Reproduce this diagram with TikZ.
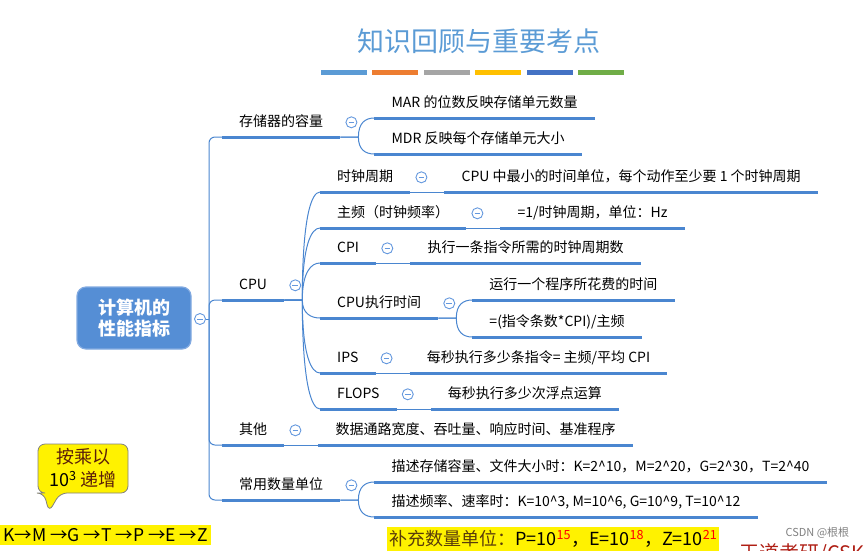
\documentclass[tikz,border=0pt]{standalone}
\usepackage{fontspec}
\setmainfont{Noto Sans CJK SC}
\usepackage{xcolor}
\usetikzlibrary{positioning,calc}

\definecolor{lineblue}{RGB}{74,134,208}
\definecolor{foldblue}{RGB}{100,152,222}
\definecolor{rootblue}{RGB}{85,142,213}
\definecolor{rootedge}{RGB}{130,170,225}
\definecolor{titleblue}{RGB}{91,155,213}
\definecolor{barblue}{RGB}{91,155,213}
\definecolor{barorange}{RGB}{237,125,49}
\definecolor{bargray}{RGB}{165,165,165}
\definecolor{bargold}{RGB}{255,192,0}
\definecolor{bardblue}{RGB}{68,114,196}
\definecolor{bargreen}{RGB}{112,173,71}
\definecolor{bubtext}{RGB}{90,30,10}
\definecolor{suptext}{RGB}{90,60,10}
\definecolor{wdred}{RGB}{175,30,20}

\tikzset{
  item/.style={anchor=south west, inner xsep=17pt, inner ysep=8pt,
    text height=11pt, text depth=2pt, font=\fontsize{14}{16}\selectfont},
  uline/.style={draw=lineblue, line width=3pt},
  conn/.style={draw=lineblue, line width=1pt},
  fold/.style={circle, draw=foldblue, line width=0.9pt, fill=white,
    minimum size=11pt, inner sep=0pt,
    path picture={\draw[foldblue, line width=0.9pt]
      ([xshift=-2.8pt]path picture bounding box.center) --
      ([xshift=2.8pt]path picture bounding box.center);}},
  root/.style={rectangle, rounded corners=9pt, fill=rootblue, draw=rootedge,
    line width=1.2pt, minimum width=114pt, minimum height=62pt, text=white,
    align=center, font=\fontsize{18}{21}\selectfont\bfseries},
}

\begin{document}
\begin{tikzpicture}[x=1pt, y=-1pt]
\useasboundingbox (0,0) rectangle (867,550);
\clip (0,0) rectangle (867,550);

% title and colour bars
\node[font=\fontsize{27}{30}\selectfont, text=titleblue] (title) at (479,41) {知识回顾与重要考点};
\foreach \c [count=\i from 0] in {barblue,barorange,bargray,bargold,bardblue,bargreen}
  \fill[\c] (321+51.4*\i,70) rectangle ++(46,5);

% root
\node[root] (root) at (134,318) {计算机的\\性能指标};
\node[fold] (froot) at (200,319) {};
\coordinate (sp) at (209,319);

% first level
\node[item] (mem) at (222,137) {存储器的容量};
\node[item] (cpu) at (222,300) {CPU};
\node[item] (oth) at (222,445) {其他};
\node[item] (unt) at (222,500) {常用数量单位};

% memory
\node[item] (mar) at ($(mem.south east)+(34,-19)$) {MAR 的位数反映存储单元数量};
\node[item] (mdr) at ($(mem.south east)+(34,17)$) {MDR 反映每个存储单元大小};

% cpu
\node[item] (clk) at (320,192) {时钟周期};
\node[item] (frq) at (320,228) {主频（时钟频率）};
\node[item] (cpi) at (320,263) {CPI};
\node[item] (tim) at (320,318) {CPU执行时间};
\node[item] (ips) at (320,373) {IPS};
\node[item] (flp) at (320,409) {FLOPS};

\node[item] (clkv) at ([xshift=34pt]clk.south east) {CPU 中最小的时间单位，每个动作至少要 1 个时钟周期};
\node[item] (frqv) at ([xshift=34pt]frq.south east) {=1/时钟周期，单位：Hz};
\node[item] (cpiv) at ([xshift=34pt]cpi.south east) {执行一条指令所需的时钟周期数};
\node[item] (tim1) at ($(tim.south east)+(34,-18)$) {运行一个程序所花费的时间};
\node[item] (tim2) at ($(tim.south east)+(34,19)$) {=(指令条数*CPI)/主频};
\node[item] (ipsv) at ([xshift=34pt]ips.south east) {每秒执行多少条指令= 主频/平均 CPI};
\node[item] (flpv) at ([xshift=34pt]flp.south east) {每秒执行多少次浮点运算};

% others and units
\node[item] (othv) at ([xshift=34pt]oth.south east) {数据通路宽度、吞吐量、响应时间、基准程序};
\node[item] (unt1) at ($(unt.south east)+(34,-18)$) {描述存储容量、文件大小时：K=2\textasciicircum10，M=2\textasciicircum20，G=2\textasciicircum30，T=2\textasciicircum40};
\node[item] (unt2) at ($(unt.south east)+(34,17)$) {描述频率、速率时：K=10\textasciicircum3, M=10\textasciicircum6, G=10\textasciicircum9, T=10\textasciicircum12};

% connectors
\draw[conn] (froot) -- (sp);
\foreach \b in {mem,cpu,oth,unt}
  \draw[conn, rounded corners=6pt] (sp) |- (\b.south west);
\foreach \a/\b in {clk/clkv,frq/frqv,cpi/cpiv,ips/ipsv,flp/flpv,oth/othv}
  \draw[conn] (\a.south east) -- (\b.south west);
\foreach \a/\b in {mem/mar,mem/mdr,cpu/clk,cpu/frq,cpu/cpi,cpu/tim,cpu/ips,cpu/flp,tim/tim1,tim/tim2,unt/unt1,unt/unt2}
  \draw[conn] (\a.south east) -- ++(18,0) coordinate (fan)
    .. controls ($(fan)!0.75!(fan |- \b.south west)$) and ($(\b.south west)+(-9,0)$) .. (\b.south west);
\foreach \n in {mem,mar,mdr,cpu,clk,clkv,frq,frqv,cpi,cpiv,tim,tim1,tim2,ips,ipsv,flp,flpv,oth,othv,unt,unt1,unt2}
  \draw[uline] (\n.south west) -- (\n.south east);
\foreach \n in {mem,cpu,clk,frq,cpi,tim,ips,flp,oth,unt}
  \node[fold] (f\n) at ([xshift=11pt]\n.east) {};

% callout and notes
\filldraw[fill=yellow, draw=gray, line width=0.8pt, rounded corners=7pt]
  (49,512) -- (60,493) -- (128,493) -- (128,444) -- (38,444) -- (38,493) -- (44,493) -- cycle;
\node[align=center, text=bubtext, font=\fontsize{18}{23}\selectfont] (bub) at (83,468)
  {按乘以\\{\color{black}10\textsuperscript{3}} 递增};
\node[fill=yellow, anchor=west, inner xsep=3pt, minimum height=20pt,
  font=\fontsize{17.5}{20}\selectfont] (kmg) at (0,535) {K→M →G →T →P →E →Z};
\node[fill=yellow, anchor=west, inner xsep=2pt, minimum height=23pt,
  font=\fontsize{18}{20}\selectfont] (more) at (387,539)
  {{\color{suptext}补充数量单位：}P=10\textsuperscript{\color{red}15}，E=10\textsuperscript{\color{red}18}，Z=10\textsuperscript{\color{red}21}};
\node[text=gray, anchor=west, font=\fontsize{11}{12}\selectfont] (csdn) at (782,533) {CSDN @根根};
\node[text=wdred, anchor=west, font=\fontsize{20}{22}\selectfont] (wd) at (736,554) {王道考研/CSKAO};
\end{tikzpicture}
\end{document}
